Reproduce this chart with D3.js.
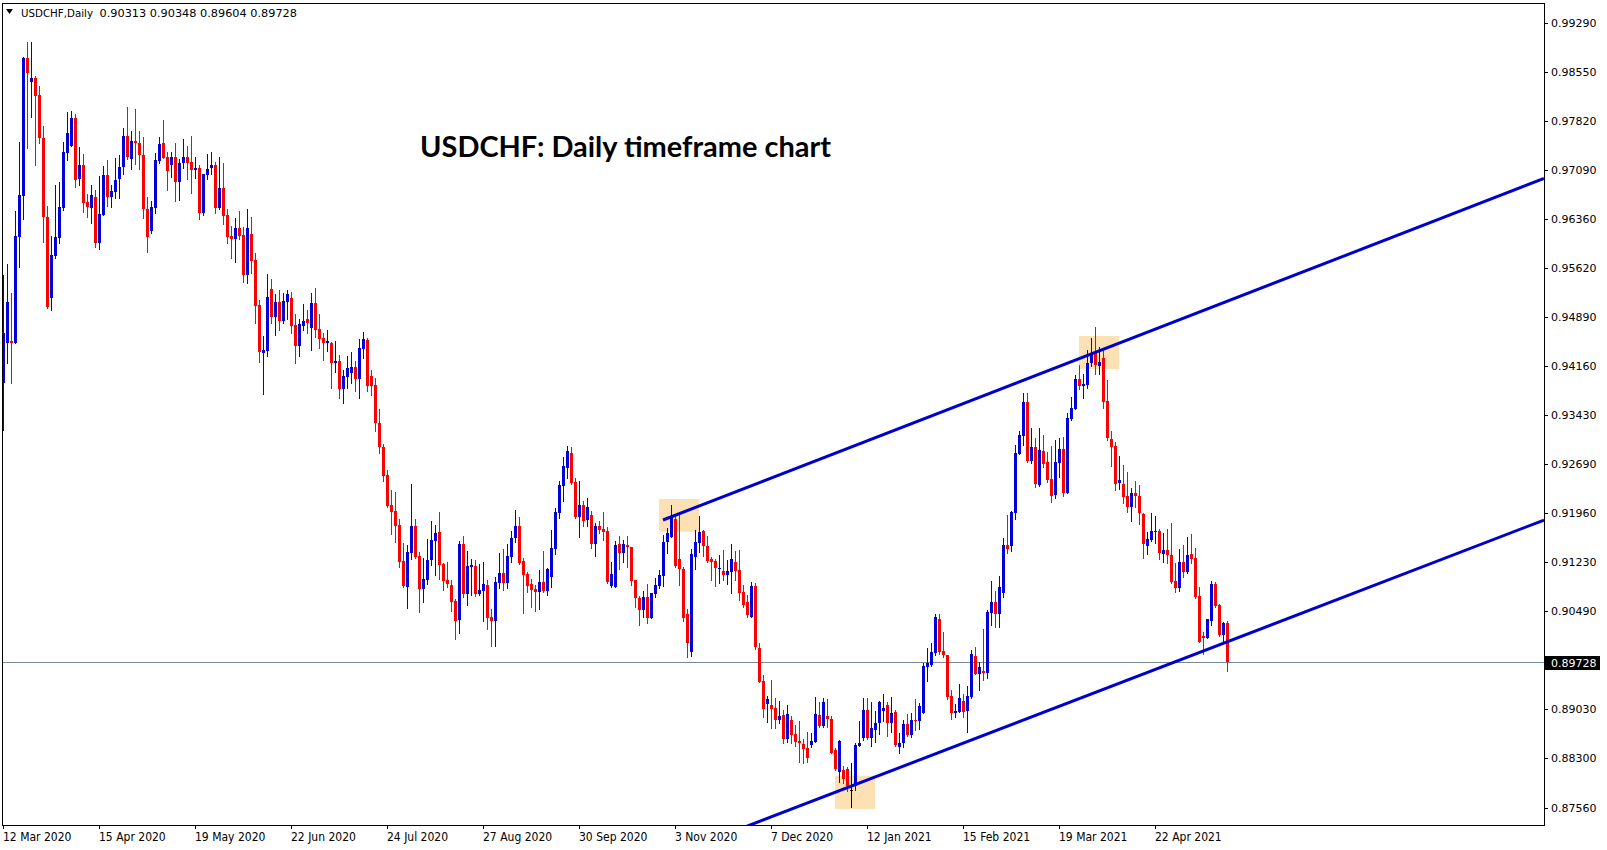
<!DOCTYPE html>
<html>
<head>
<meta charset="utf-8">
<script src="https://cdn.jsdelivr.net/npm/d3@7"></script>
<style>
body { margin: 0; background: #fff; }
svg { display: block; }
</style>
</head>
<body>
<svg id="svg"></svg>
<script>
// daily USDCHF candles, first bar 12 Mar 2020 (weekdays, no Christmas / New Year bar)
var holidays = ["2020-12-25", "2021-01-01"];

var opens = [
0.93904,0.94507,0.94532,0.94507,0.96090,0.96703,0.98765,0.98406,0.98466,0.98207,
0.97570,0.96389,0.95179,0.95802,0.96075,0.96524,0.97335,0.97450,0.97868,0.96952,
0.97161,0.96613,0.96514,0.96688,0.95991,0.96414,0.97012,0.96688,0.96763,0.96952,
0.97126,0.97594,0.97246,0.97520,0.97490,0.97310,0.96504,0.96175,0.96524,0.97226,
0.97490,0.97286,0.97161,0.97286,0.96912,0.97186,0.97286,0.97211,0.97086,0.97116,
0.96449,0.97012,0.97116,0.97161,0.96514,0.96822,0.96414,0.96105,0.96060,0.96225,
0.96115,0.95518,0.96130,0.95742,0.95069,0.94357,0.94387,0.95308,0.94895,0.95119,
0.94835,0.95119,0.95179,0.94771,0.94462,0.94761,0.94860,0.94731,0.95104,0.94711,
0.94576,0.94507,0.94507,0.94208,0.94233,0.93820,0.93999,0.94059,0.94138,0.93969,
0.94407,0.94547,0.94009,0.93874,0.93302,0.92953,0.92530,0.92082,0.91997,0.91783,
0.91245,0.90861,0.91359,0.91768,0.91320,0.90827,0.90961,0.91260,0.91549,0.91673,
0.91200,0.90961,0.90886,0.90647,0.90363,0.91499,0.90751,0.91160,0.91175,0.90751,
0.90801,0.90886,0.90413,0.90348,0.90911,0.91060,0.90911,0.91309,0.91583,0.91767,
0.91244,0.91050,0.90901,0.90826,0.90776,0.90926,0.90796,0.91010,0.91424,0.91967,
0.92370,0.92639,0.92863,0.92430,0.91907,0.92081,0.91857,0.91932,0.91498,0.91767,
0.91728,0.91693,0.90871,0.90861,0.91498,0.91369,0.91483,0.91449,0.90961,0.90697,
0.90512,0.90712,0.90398,0.90752,0.90871,0.91020,0.91533,0.91608,0.91867,0.91269,
0.91120,0.90453,0.89890,0.91309,0.91518,0.91698,0.91469,0.91269,0.91249,0.91120,
0.91095,0.91035,0.91085,0.91235,0.91110,0.90786,0.90637,0.90413,0.90871,0.89950,
0.89452,0.89104,0.89094,0.89054,0.88869,0.88944,0.88586,0.88869,0.88660,0.88556,
0.88511,0.88456,0.88496,0.88546,0.88944,0.88785,0.88929,0.88884,0.88421,0.88088,
0.88122,0.88137,0.87824,0.87883,0.88486,0.88596,0.89019,0.88606,0.88720,0.88820,
0.89004,0.89094,0.88830,0.88984,0.88471,0.88521,0.88805,0.88645,0.88870,0.88855,
0.88979,0.89666,0.89691,0.89876,0.90373,0.89901,0.89841,0.89228,0.88979,0.88994,
0.89158,0.89009,0.89208,0.89826,0.89557,0.89602,0.89567,0.90463,0.90628,0.90453,
0.90772,0.91484,0.91474,0.91967,0.92844,0.93113,0.93625,0.92744,0.92943,0.92381,
0.92893,0.92729,0.92470,0.92231,0.92714,0.92918,0.92265,0.93366,0.93515,0.93964,
0.93864,0.93874,0.94198,0.94372,0.94163,0.94282,0.93635,0.93067,0.92963,0.92415,
0.92390,0.92216,0.92057,0.92265,0.92216,0.91947,0.91474,0.91558,0.91673,0.91693,
0.91344,0.91409,0.91334,0.90946,0.90846,0.91224,0.91085,0.91344,0.91294,0.90722,
0.90124,0.90099,0.90348,0.90901,0.90587,0.90139,0.90313];

var highs = [
0.95518,0.95682,0.95254,0.96474,0.97510,0.98780,0.99000,0.99000,0.98491,0.98346,
0.97744,0.96554,0.96100,0.96862,0.96907,0.97510,0.97958,0.97973,0.97923,0.97435,
0.97325,0.96728,0.96862,0.96788,0.96997,0.97146,0.97236,0.96862,0.97266,0.97310,
0.97714,0.98028,0.97669,0.97998,0.97669,0.97579,0.96688,0.96623,0.97345,0.97579,
0.97833,0.97360,0.97360,0.97495,0.97251,0.97549,0.97445,0.97594,0.97286,0.97161,
0.97026,0.97325,0.97360,0.97206,0.97286,0.97196,0.96504,0.96250,0.96374,0.96474,
0.96240,0.96504,0.96389,0.95841,0.95144,0.94606,0.95532,0.95458,0.95234,0.95293,
0.95254,0.95293,0.95269,0.94935,0.94860,0.95084,0.94995,0.95254,0.95318,0.94935,
0.94656,0.94696,0.94522,0.94532,0.94322,0.94098,0.94308,0.94367,0.94233,0.94557,
0.94661,0.94581,0.94098,0.93974,0.93516,0.92993,0.92604,0.92306,0.92276,0.91872,
0.91509,0.91484,0.92395,0.91872,0.91384,0.91285,0.91573,0.91842,0.91783,0.91972,
0.91220,0.91235,0.90961,0.90677,0.91544,0.91618,0.91394,0.91274,0.91259,0.91200,
0.91235,0.90961,0.90527,0.91010,0.91369,0.91424,0.91498,0.91693,0.92006,0.91897,
0.91294,0.91085,0.90976,0.90886,0.91110,0.91394,0.91145,0.91708,0.92031,0.92440,
0.92803,0.92968,0.92953,0.92489,0.92440,0.92146,0.92181,0.91996,0.91817,0.91842,
0.91977,0.91757,0.91235,0.91548,0.91618,0.91558,0.91623,0.91449,0.90961,0.90722,
0.90796,0.90896,0.90771,0.90986,0.91110,0.91633,0.91733,0.92081,0.91942,0.91932,
0.91160,0.90522,0.91424,0.91708,0.91922,0.91708,0.91618,0.91299,0.91269,0.91334,
0.91409,0.91259,0.91498,0.91394,0.91409,0.90886,0.90737,0.90936,0.90911,0.90014,
0.89542,0.89233,0.89467,0.89193,0.89153,0.89019,0.89094,0.88929,0.88795,0.88854,
0.88586,0.88685,0.88670,0.89218,0.89133,0.89203,0.89183,0.88929,0.88446,0.88571,
0.88182,0.88162,0.88222,0.88521,0.88860,0.89203,0.89203,0.89143,0.89004,0.89153,
0.89253,0.89143,0.89218,0.89019,0.88670,0.88869,0.88954,0.88969,0.89178,0.89129,
0.89726,0.89940,0.90015,0.90453,0.90453,0.90189,0.89841,0.89318,0.89109,0.89407,
0.89253,0.89378,0.89915,0.89965,0.89741,0.90224,0.90513,0.90951,0.90802,0.91021,
0.91584,0.91932,0.91997,0.92978,0.93187,0.93750,0.93750,0.93227,0.93078,0.93237,
0.93128,0.92879,0.92963,0.93053,0.93078,0.93103,0.93461,0.93690,0.94023,0.94173,
0.94033,0.94397,0.94581,0.94735,0.94447,0.94387,0.93949,0.93192,0.93027,0.92813,
0.92679,0.92579,0.92330,0.92445,0.92380,0.91957,0.91683,0.91967,0.91917,0.91718,
0.91668,0.91718,0.91817,0.91210,0.91419,0.91484,0.91598,0.91648,0.91434,0.90861,
0.90189,0.90373,0.90946,0.90936,0.90597,0.90338,0.90348];

var lows = [
0.93202,0.94208,0.93909,0.94500,0.95642,0.96354,0.97420,0.97883,0.97161,0.97485,
0.96016,0.95030,0.94995,0.95767,0.96001,0.96489,0.97236,0.97450,0.96837,0.96862,
0.96464,0.96389,0.96290,0.95941,0.95906,0.96414,0.96554,0.96539,0.96673,0.96673,
0.97027,0.97251,0.97101,0.97176,0.97106,0.96374,0.95866,0.96150,0.96449,0.97196,
0.97271,0.96787,0.96987,0.96628,0.96638,0.97111,0.96952,0.96748,0.96962,0.96359,
0.96419,0.96952,0.97026,0.96449,0.96499,0.96284,0.96001,0.95776,0.95717,0.96060,
0.95418,0.95403,0.95542,0.94805,0.94223,0.93745,0.94312,0.94795,0.94621,0.94696,
0.94805,0.94860,0.94646,0.94198,0.94312,0.94696,0.94656,0.94397,0.94596,0.94432,
0.94248,0.94387,0.93835,0.94069,0.93685,0.93610,0.93835,0.93909,0.93790,0.93685,
0.94273,0.93790,0.93725,0.93192,0.92853,0.92445,0.92057,0.91648,0.91534,0.91160,
0.90861,0.90548,0.91270,0.91295,0.90488,0.90637,0.90901,0.91185,0.91036,0.90971,
0.90812,0.90861,0.90498,0.90079,0.90174,0.90712,0.90587,0.90737,0.90727,0.90737,
0.90353,0.90229,0.89980,0.89980,0.90846,0.90811,0.90846,0.91235,0.91533,0.91200,
0.90473,0.90786,0.90562,0.90502,0.90527,0.90776,0.90737,0.90861,0.91349,0.91892,
0.92146,0.92489,0.92395,0.91892,0.91608,0.91767,0.91767,0.91444,0.91324,0.91658,
0.91558,0.90921,0.90861,0.90861,0.91120,0.91235,0.91150,0.90886,0.90552,0.90288,
0.90413,0.90323,0.90398,0.90712,0.90836,0.90871,0.91369,0.91608,0.91150,0.90886,
0.90353,0.89815,0.89830,0.91120,0.91384,0.91319,0.91235,0.90961,0.90876,0.90911,
0.90961,0.90901,0.90761,0.90961,0.90662,0.90562,0.90413,0.90413,0.89930,0.89432,
0.88909,0.88845,0.88745,0.88745,0.88820,0.88521,0.88536,0.88521,0.88486,0.88247,
0.88222,0.88247,0.88471,0.88546,0.88770,0.88770,0.88770,0.88371,0.88122,0.87938,
0.87923,0.87814,0.87575,0.87824,0.88486,0.88571,0.88581,0.88486,0.88546,0.88655,
0.88854,0.88635,0.88695,0.88486,0.88381,0.88461,0.88630,0.88620,0.88720,0.88735,
0.88979,0.89457,0.89676,0.89841,0.89856,0.89816,0.89183,0.88885,0.88909,0.88984,
0.88919,0.88695,0.89193,0.89557,0.89318,0.89467,0.89492,0.90289,0.90264,0.90264,
0.90702,0.91360,0.91395,0.91873,0.92844,0.92980,0.92729,0.92704,0.92346,0.92371,
0.92654,0.92420,0.92132,0.92181,0.92505,0.92216,0.92265,0.93351,0.93515,0.93814,
0.93685,0.93824,0.94163,0.94033,0.94033,0.93535,0.93052,0.92669,0.92305,0.92315,
0.92116,0.91972,0.91847,0.92057,0.91792,0.91284,0.91344,0.91543,0.91508,0.91274,
0.91224,0.91219,0.90911,0.90786,0.90796,0.91000,0.91060,0.91219,0.90697,0.90029,
0.89850,0.90099,0.90288,0.90562,0.90129,0.90054,0.89604];

var closes = [
0.94651,0.95119,0.94507,0.96100,0.96713,0.98765,0.98531,0.98466,0.98197,0.97560,
0.96389,0.95045,0.95816,0.96090,0.96539,0.97360,0.97644,0.97868,0.96937,0.97161,
0.96598,0.96539,0.96713,0.95991,0.96429,0.97012,0.96688,0.96773,0.96937,0.97136,
0.97594,0.97276,0.97520,0.97485,0.97310,0.96504,0.96090,0.96534,0.97236,0.97475,
0.97271,0.97076,0.97286,0.96912,0.97196,0.97286,0.97186,0.97086,0.97116,0.96449,
0.97026,0.97101,0.97161,0.96523,0.96822,0.96404,0.96090,0.96060,0.96225,0.96105,
0.95518,0.96225,0.95732,0.95059,0.94372,0.94397,0.95194,0.94895,0.95119,0.94835,
0.95129,0.95234,0.94761,0.94462,0.94786,0.94835,0.94805,0.95104,0.94696,0.94562,
0.94507,0.94537,0.94208,0.94233,0.93810,0.94009,0.94123,0.94138,0.93969,0.94422,
0.94557,0.93864,0.93864,0.93302,0.92943,0.92520,0.92067,0.91982,0.91773,0.91235,
0.90871,0.91374,0.91768,0.91310,0.90827,0.90971,0.91260,0.91559,0.91658,0.91185,
0.90946,0.90901,0.90637,0.90353,0.91499,0.90752,0.91175,0.91185,0.90751,0.90811,
0.90901,0.90398,0.90348,0.90926,0.91060,0.90911,0.91324,0.91593,0.91767,0.91210,
0.91035,0.90871,0.90811,0.90776,0.90926,0.90796,0.91125,0.91444,0.91977,0.92380,
0.92669,0.92888,0.92415,0.91907,0.92081,0.91847,0.92046,0.91498,0.91767,0.91708,
0.91683,0.90936,0.91050,0.91483,0.91369,0.91498,0.91449,0.90946,0.90687,0.90512,
0.90712,0.90398,0.90771,0.90886,0.91035,0.91533,0.91668,0.91917,0.91170,0.91120,
0.90398,0.90024,0.91349,0.91533,0.91683,0.91469,0.91249,0.91235,0.91135,0.91145,
0.91035,0.91095,0.91274,0.91100,0.90761,0.90587,0.90438,0.90871,0.89965,0.89442,
0.89034,0.89183,0.89034,0.88869,0.88934,0.88586,0.88954,0.88645,0.88536,0.88521,
0.88431,0.88307,0.88556,0.88954,0.88785,0.89133,0.88884,0.88381,0.88137,0.88556,
0.87988,0.87883,0.87824,0.88496,0.88531,0.89019,0.88606,0.88755,0.88820,0.89143,
0.89054,0.88830,0.88969,0.88496,0.88521,0.88805,0.88645,0.88869,0.88855,0.89079,
0.89676,0.89726,0.89881,0.90413,0.89881,0.89841,0.89218,0.88979,0.89004,0.89193,
0.88984,0.89228,0.89856,0.89557,0.89656,0.89577,0.90478,0.90628,0.90453,0.90852,
0.91484,0.91424,0.91982,0.92854,0.93128,0.93625,0.92744,0.92943,0.92395,0.92903,
0.92694,0.92455,0.92216,0.92729,0.92918,0.92266,0.93386,0.93525,0.93964,0.93864,
0.93889,0.94208,0.94347,0.94173,0.94223,0.93625,0.93077,0.92953,0.92390,0.92455,
0.92206,0.92057,0.92256,0.92216,0.91967,0.91494,0.91573,0.91693,0.91693,0.91359,
0.91409,0.91334,0.90936,0.90846,0.91224,0.91075,0.91334,0.91269,0.90712,0.90029,
0.90099,0.90373,0.90901,0.90577,0.90139,0.90323,0.89728];

var priceTicks = [0.99290, 0.98550, 0.97820, 0.97090, 0.96360, 0.95620, 0.94890, 0.94160,
	0.93430, 0.92690, 0.91960, 0.91230, 0.90490, 0.89030, 0.88300, 0.87560];
var lastPrice = 0.89728;

// channel lines: two anchor points each (bar index, price), drawn as rays to the right
var upperLine = [[165, 0.91857], [272, 0.94336]];
var lowerLine = [[212, 0.87879], [300, 0.89899]];
// highlighted zones: [first bar, last bar, top price, bottom price]
var zones = [[164, 174, 0.92171, 0.91682], [208, 218, 0.88037, 0.87539], [269, 279, 0.94606, 0.94113]];

var width = 1607, height = 850;
var plotL = 2, plotT = 3, plotR = 1544, plotB = 825;
var upColor = "#0000dd", downColor = "#ff0000";

var svg = d3.select("#svg")
	.attr("width", width)
	.attr("height", height);

var x = d3.scaleLinear().domain([0, 306]).range([3, 1227]);
var y = d3.scaleLinear().domain([0.87560, 0.99290]).range([807.6, 22.5]);

// trading dates
var fmtKey = d3.timeFormat("%Y-%m-%d");
var dates = [];
var day = new Date(2020, 2, 12);
while (dates.length < closes.length) {
	if (day.getDay() != 0 && day.getDay() != 6 && holidays.indexOf(fmtKey(day)) < 0)
		dates.push(new Date(day));
	day.setDate(day.getDate() + 1);
}

var candles = closes.map(function(c, i) {
	return { i: i, date: dates[i], o: opens[i], h: highs[i], l: lows[i], c: c };
});

svg.append("defs").append("clipPath").attr("id", "plot")
	.append("rect").attr("x", plotL).attr("y", plotT)
	.attr("width", plotR - plotL).attr("height", plotB - plotT);

var plot = svg.append("g").attr("clip-path", "url(#plot)");

// zones behind the bars
plot.selectAll(".zone")
	.data(zones)
	.enter().append("rect")
	.attr("x", function(d) { return x(d[0]); })
	.attr("width", function(d) { return x(d[1]) - x(d[0]); })
	.attr("y", function(d) { return y(d[2]); })
	.attr("height", function(d) { return y(d[3]) - y(d[2]); })
	.attr("fill", "#fde0b4");

// last price line
plot.append("line")
	.attr("x1", plotL).attr("x2", plotR)
	.attr("y1", Math.round(y(lastPrice)) + 0.5).attr("y2", Math.round(y(lastPrice)) + 0.5)
	.attr("stroke", "#778899").attr("stroke-width", 1);

function barColor(d) {
	if (d.c > d.o) return upColor;
	if (d.c < d.o) return downColor;
	return "#000";
}

var bars = plot.selectAll(".bar")
	.data(candles)
	.enter().append("g")
	.attr("class", "bar")
	.attr("shape-rendering", "crispEdges");

bars.append("line")
	.attr("x1", function(d) { return Math.round(x(d.i)) + 0.5; })
	.attr("x2", function(d) { return Math.round(x(d.i)) + 0.5; })
	.attr("y1", function(d) { return y(d.h); })
	.attr("y2", function(d) { return y(d.l) + 1; })
	.attr("stroke", barColor);

bars.append("rect")
	.attr("x", function(d) { return Math.round(x(d.i)) - 1; })
	.attr("width", 3)
	.attr("y", function(d) { return y(Math.max(d.o, d.c)); })
	.attr("height", function(d) { return Math.max(1, Math.abs(y(d.o) - y(d.c))); })
	.attr("fill", barColor);

// channel rays
function ray(pts, fromBar) {
	var slope = (pts[1][1] - pts[0][1]) / (pts[1][0] - pts[0][0]);
	var endBar = x.invert(plotR);
	var start = fromBar == null ? pts[0][0] : fromBar;
	return [[start, pts[0][1] + (start - pts[0][0]) * slope], [endBar, pts[0][1] + (endBar - pts[0][0]) * slope]];
}
var lineGen = d3.line().x(function(d) { return x(d[0]); }).y(function(d) { return y(d[1]); });

plot.selectAll(".channel")
	.data([ray(upperLine), ray(lowerLine, 180)])
	.enter().append("path")
	.attr("d", lineGen)
	.attr("fill", "none")
	.attr("stroke", "#0000cd")
	.attr("stroke-width", 3);

// frame
svg.append("rect")
	.attr("x", plotL + 0.5).attr("y", plotT + 0.5)
	.attr("width", plotR - plotL).attr("height", plotB - plotT)
	.attr("fill", "none").attr("stroke", "#000").attr("stroke-width", 1)
	.attr("shape-rendering", "crispEdges");

// price scale
var yTicks = svg.append("g").attr("font-family", "DejaVu Sans, Tahoma, sans-serif").attr("font-size", "11px");
yTicks.selectAll("line")
	.data(priceTicks)
	.enter().append("line")
	.attr("x1", plotR).attr("x2", plotR + 4)
	.attr("y1", function(d) { return Math.round(y(d)) + 0.5; })
	.attr("y2", function(d) { return Math.round(y(d)) + 0.5; })
	.attr("stroke", "#000");
yTicks.selectAll("text")
	.data(priceTicks)
	.enter().append("text")
	.attr("x", plotR + 7)
	.attr("y", function(d) { return y(d) + 4; })
	.attr("fill", "#000")
	.text(function(d) { return d.toFixed(5); });

svg.append("rect")
	.attr("x", plotR + 1).attr("y", Math.round(y(lastPrice)) - 6)
	.attr("width", 55).attr("height", 14)
	.attr("fill", "#000");
svg.append("text")
	.attr("x", plotR + 7).attr("y", y(lastPrice) + 4.5)
	.attr("font-family", "DejaVu Sans, Tahoma, sans-serif").attr("font-size", "11px")
	.attr("fill", "#fff")
	.text(lastPrice.toFixed(5));

// time scale
var fmtDate = d3.timeFormat("%-d %b %Y");
var dateTicks = d3.range(0, closes.length, 24).filter(function(i) { return i <= 288; });
var xTicks = svg.append("g").attr("font-family", "Liberation Sans Narrow, DejaVu Sans Condensed, Arial Narrow, sans-serif")
	.attr("font-size", "12px").attr("font-stretch", "condensed");
xTicks.selectAll("line")
	.data(dateTicks)
	.enter().append("line")
	.attr("x1", function(i) { return Math.round(x(i)) + 0.5; })
	.attr("x2", function(i) { return Math.round(x(i)) + 0.5; })
	.attr("y1", plotB).attr("y2", plotB + 4)
	.attr("stroke", "#000");
xTicks.selectAll("text")
	.data(dateTicks)
	.enter().append("text")
	.attr("x", function(i) { return x(i); })
	.attr("y", 841)
	.attr("fill", "#000")
	.text(function(i) { return fmtDate(dates[i]); });

// legend
svg.append("path").attr("d", "M6,9L13,9L9.5,14Z").attr("fill", "#000");
svg.append("text")
	.attr("x", 21).attr("y", 17)
	.attr("font-family", "DejaVu Sans, Tahoma, sans-serif").attr("font-size", "11px")
	.attr("textLength", 72).attr("lengthAdjust", "spacingAndGlyphs")
	.text("USDCHF,Daily");
svg.append("text")
	.attr("x", 99.5).attr("y", 17)
	.attr("font-family", "DejaVu Sans, Tahoma, sans-serif").attr("font-size", "11px")
	.attr("textLength", 197.5).attr("lengthAdjust", "spacingAndGlyphs")
	.text([opens[306], highs[306], lows[306], closes[306]].map(function(v) { return v.toFixed(5); }).join(" "));

// title
svg.append("text")
	.attr("x", 420).attr("y", 157)
	.attr("font-family", "Lato, Open Sans, sans-serif").attr("font-weight", "bold").attr("font-size", "29px")
	.attr("textLength", 411).attr("lengthAdjust", "spacingAndGlyphs")
	.attr("fill", "#000")
	.text("USDCHF: Daily timeframe chart");
</script>
</body>
</html>
